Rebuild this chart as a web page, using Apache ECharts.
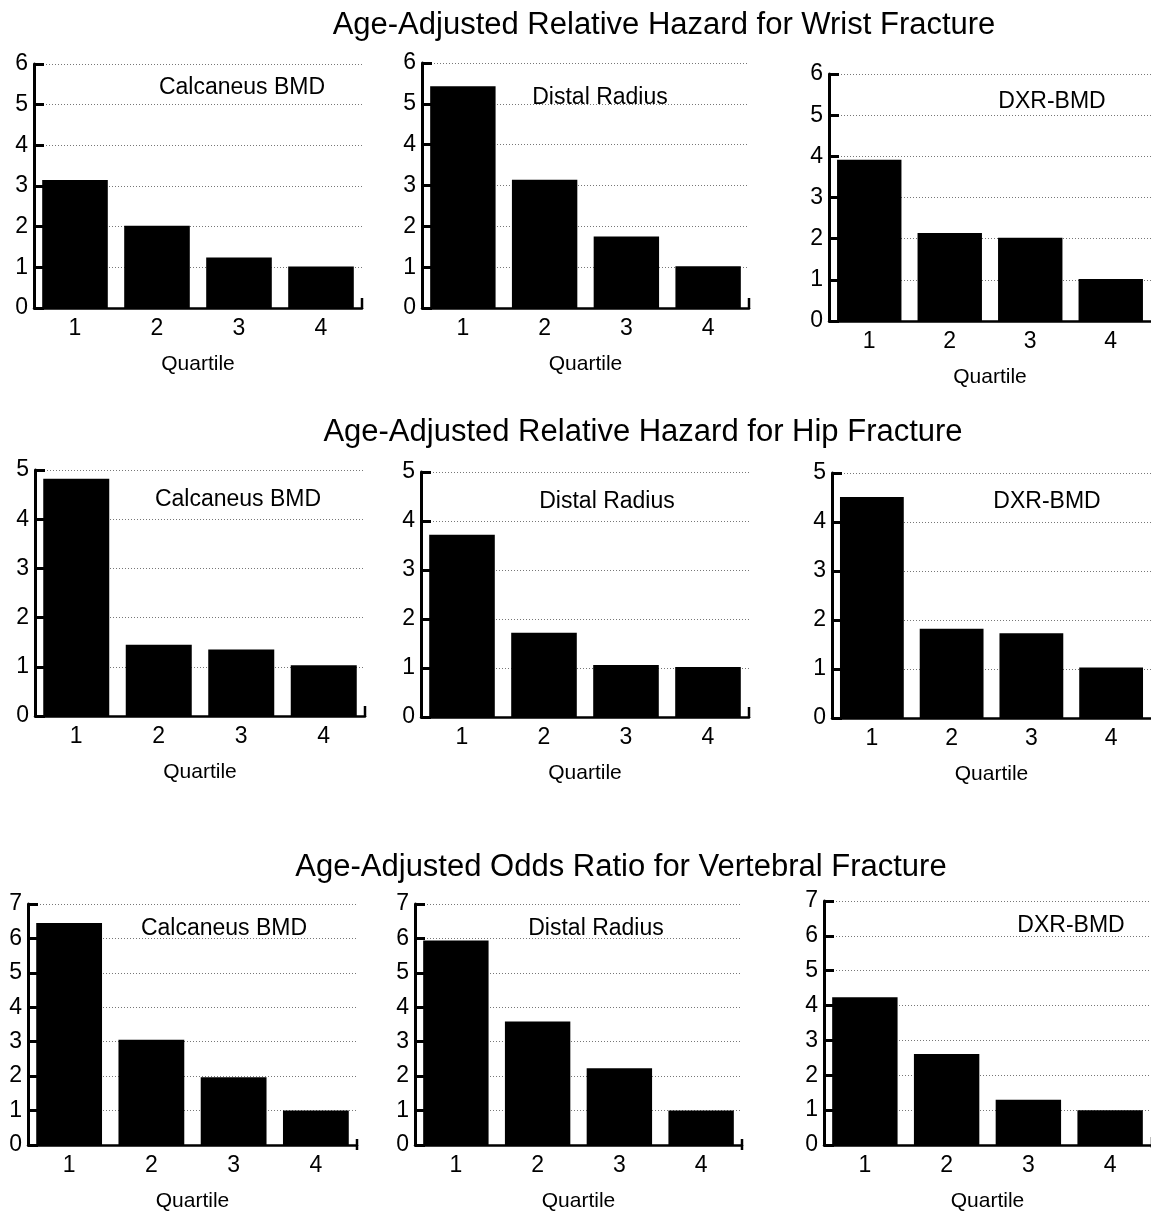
<!DOCTYPE html>
<html>
<head>
<meta charset="utf-8">
<script src="https://cdn.jsdelivr.net/npm/echarts@6/dist/echarts.min.js"></script>
<style>
  html, body { margin: 0; padding: 0; background: #fff; }
  #main { width: 1151px; height: 1213px; }
</style>
</head>
<body>
<div id="main"></div>
<script>
// quartile categories
const quartiles = ["1", "2", "3", "4"];

// wrist fracture, age-adjusted relative hazard
const wristCalcaneus = [3.15, 2.02, 1.24, 1.02];
const wristRadius = [5.43, 3.14, 1.75, 1.02];
const wristDxr = [3.92, 2.14, 2.02, 1.02];

// hip fracture, age-adjusted relative hazard
const hipCalcaneus = [4.82, 1.45, 1.35, 1.03];
const hipRadius = [3.72, 1.72, 1.06, 1.02];
const hipDxr = [4.51, 1.82, 1.73, 1.03];

// vertebral fracture, age-adjusted odds ratio
const vertCalcaneus = [6.45, 3.06, 1.97, 1.0];
const vertRadius = [5.94, 3.59, 2.23, 1.0];
const vertDxr = [4.24, 2.61, 1.3, 1.0];

const rowTitles = [
  "Age-Adjusted Relative Hazard for Wrist Fracture",
  "Age-Adjusted Relative Hazard for Hip Fracture",
  "Age-Adjusted Odds Ratio for Vertebral Fracture",
];
const panelNames = ["Calcaneus BMD", "Distal Radius", "DXR-BMD"];
const rowMax = [6, 5, 7];

let chartDom = document.getElementById("main");
let myChart = echarts.init(chartDom);
let option;

const font = "'Liberation Sans', Arial, sans-serif";

// layout of the nine panels (pixels)
const panels = [
  { row: 0, col: 0, data: wristCalcaneus, left: 34, top: 64, width: 328, height: 244, sub: [242, 88] },
  { row: 0, col: 1, data: wristRadius, left: 422, top: 63, width: 327, height: 245, sub: [600, 98] },
  { row: 0, col: 2, data: wristDxr, left: 829, top: 74, width: 328, height: 247, sub: [1052, 102] },
  { row: 1, col: 0, data: hipCalcaneus, left: 35, top: 470, width: 330, height: 246, sub: [238, 500] },
  { row: 1, col: 1, data: hipRadius, left: 421, top: 472, width: 328, height: 245, sub: [607, 502] },
  { row: 1, col: 2, data: hipDxr, left: 832, top: 473, width: 328, height: 245, sub: [1047, 502] },
  { row: 2, col: 0, data: vertCalcaneus, left: 28, top: 904, width: 329, height: 245, sub: [224, 929] },
  { row: 2, col: 1, data: vertRadius, left: 415, top: 904, width: 327, height: 245, sub: [596, 929] },
  { row: 2, col: 2, data: vertDxr, left: 824, top: 901, width: 328, height: 246, sub: [1071, 926] },
];
const titlePos = [[664, 25], [643, 432], [621, 867]];

option = {
  backgroundColor: "#fff",
  animation: false,
  title: [],
  grid: [],
  xAxis: [],
  yAxis: [],
  series: [],
  graphic: [],
};

rowTitles.forEach((t, i) => {
  option.title.push({
    text: t,
    left: titlePos[i][0],
    top: titlePos[i][1],
    padding: 0,
    textAlign: "center",
    textVerticalAlign: "middle",
    textStyle: { fontFamily: font, fontSize: 31, fontWeight: "normal", color: "#000" },
  });
});

panels.forEach((p, i) => {
  option.title.push({
    text: panelNames[p.col],
    left: p.sub[0],
    top: p.sub[1],
    padding: 0,
    textAlign: "center",
    textVerticalAlign: "middle",
    textStyle: { fontFamily: font, fontSize: 23, fontWeight: "normal", color: "#000" },
  });
  option.grid.push({ left: p.left, top: p.top, width: p.width, height: p.height, containLabel: false });
  option.xAxis.push({
    type: "category",
    gridIndex: i,
    data: quartiles,
    name: "Quartile",
    nameLocation: "middle",
    nameGap: 46,
    nameTextStyle: { fontFamily: font, fontSize: 21, color: "#000" },
    axisLine: { lineStyle: { color: "#000", width: 2.5 } },
    axisTick: { show: false },
    axisLabel: { fontFamily: font, fontSize: 23, color: "#000", margin: 9 },
  });
  option.yAxis.push({
    type: "value",
    gridIndex: i,
    min: 0,
    max: rowMax[p.row],
    interval: 1,
    axisLine: { show: true, lineStyle: { color: "#000", width: 3 } },
    axisTick: { show: true, inside: true, length: 10, lineStyle: { color: "#000", width: 3 } },
    axisLabel: { fontFamily: font, fontSize: 23, color: "#000", margin: 6 },
    splitLine: { show: true, lineStyle: { color: "#777", width: 1, type: [1, 2] } },
  });
  option.series.push({
    type: "bar",
    xAxisIndex: i,
    yAxisIndex: i,
    data: p.data,
    barCategoryGap: "20%",
    itemStyle: { color: "#000" },
  });
  // small upward stub at the right end of the x axis
  const x0 = p.left + p.width;
  const y0 = p.top + p.height;
  option.graphic.push({
    type: "line",
    shape: { x1: x0, y1: y0 + 1, x2: x0, y2: y0 - 10 },
    style: { stroke: "#000", lineWidth: 2.5 },
    z: 10,
  });
});

option && myChart.setOption(option);
</script>
</body>
</html>
